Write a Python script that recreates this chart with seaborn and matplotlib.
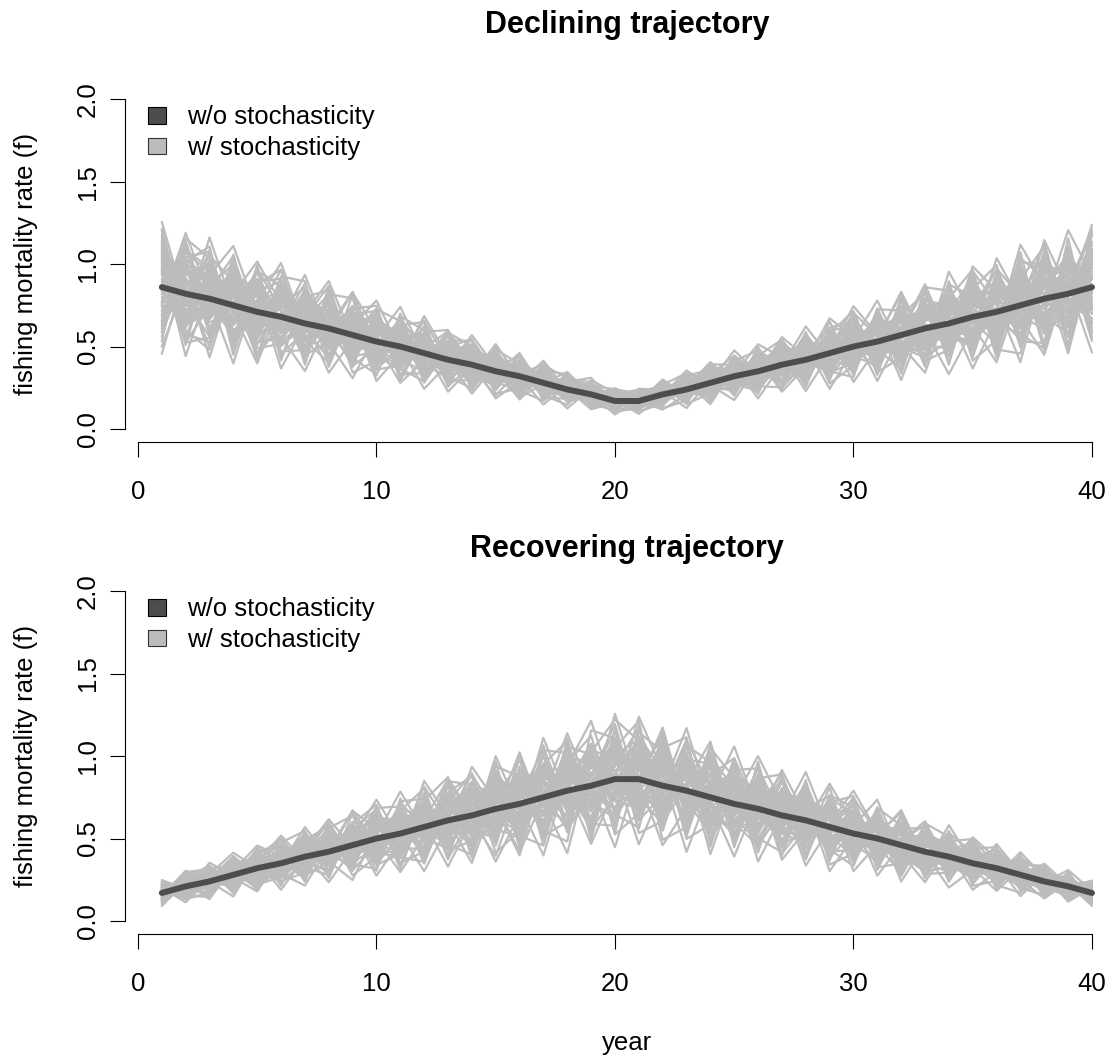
import matplotlib
matplotlib.use("Agg")
import matplotlib.pyplot as plt
from matplotlib.patches import Patch
import pandas as pd
import seaborn as sns

years = list(range(1, 41))

# deterministic fishing mortality rate (f) for the two scenarios
f_declining = [0.86, 0.82, 0.79, 0.75, 0.71, 0.68, 0.64, 0.61, 0.57, 0.53,
               0.50, 0.46, 0.42, 0.39, 0.35, 0.32, 0.28, 0.24, 0.21, 0.17,
               0.17, 0.21, 0.24, 0.28, 0.32, 0.35, 0.39, 0.42, 0.46, 0.50,
               0.53, 0.57, 0.61, 0.64, 0.68, 0.71, 0.75, 0.79, 0.82, 0.86]
f_recovering = [0.17, 0.21, 0.24, 0.28, 0.32, 0.35, 0.39, 0.42, 0.46, 0.50,
                0.53, 0.57, 0.61, 0.64, 0.68, 0.71, 0.75, 0.79, 0.82, 0.86,
                0.86, 0.82, 0.79, 0.75, 0.71, 0.68, 0.64, 0.61, 0.57, 0.53,
                0.50, 0.46, 0.42, 0.39, 0.35, 0.32, 0.28, 0.24, 0.21, 0.17]

# stochastic replicates: realised f as percent of the deterministic rate, by year
replicate_pct = [
    [112, 87, 95, 131, 78, 104, 66, 119, 92, 108, 125, 83, 97, 71, 114, 102, 88, 136, 93, 79, 106, 121, 85, 99, 117, 74, 110, 91, 128, 96, 82, 105, 139, 89, 76, 118, 101, 94, 123, 86],
    [74, 121, 103, 89, 115, 93, 138, 81, 107, 69, 98, 116, 84, 127, 91, 77, 112, 95, 108, 133, 87, 72, 119, 104, 90, 126, 83, 113, 68, 101, 122, 94, 79, 111, 135, 85, 97, 124, 78, 109],
    [98, 105, 63, 117, 92, 129, 84, 101, 146, 88, 76, 109, 122, 95, 58, 113, 99, 81, 124, 106, 71, 93, 137, 86, 103, 115, 64, 97, 110, 83, 119, 102, 89, 132, 96, 73, 114, 88, 105, 141],
    [131, 82, 118, 96, 108, 74, 99, 127, 85, 113, 102, 91, 137, 79, 104, 122, 67, 110, 93, 117, 128, 99, 81, 142, 76, 94, 121, 107, 87, 115, 72, 126, 98, 84, 109, 136, 91, 77, 118, 95],
    [86, 97, 129, 72, 103, 116, 91, 108, 77, 124, 89, 143, 96, 111, 83, 94, 127, 101, 68, 88, 114, 106, 97, 75, 120, 103, 139, 82, 95, 107, 91, 64, 118, 99, 87, 112, 125, 103, 70, 116],
    [104, 134, 85, 108, 61, 97, 115, 88, 123, 99, 117, 78, 106, 132, 97, 85, 103, 119, 89, 72, 101, 138, 93, 111, 84, 67, 105, 125, 98, 136, 87, 109, 96, 121, 80, 94, 107, 133, 92, 78],
    [69, 111, 99, 123, 97, 86, 128, 95, 102, 133, 81, 104, 90, 118, 109, 137, 92, 76, 115, 98, 84, 118, 107, 127, 94, 111, 88, 79, 121, 90, 105, 143, 83, 102, 117, 98, 72, 110, 129, 101],
    [118, 91, 137, 84, 122, 105, 73, 113, 96, 87, 109, 126, 62, 99, 121, 90, 115, 106, 131, 94, 77, 103, 89, 118, 139, 97, 116, 92, 103, 74, 127, 98, 113, 88, 96, 124, 105, 86, 99, 132],
    [93, 76, 112, 101, 134, 89, 106, 142, 81, 117, 95, 101, 119, 87, 74, 108, 126, 94, 103, 115, 92, 81, 128, 65, 108, 123, 94, 137, 86, 112, 99, 82, 124, 106, 129, 71, 119, 97, 87, 107],
    [127, 103, 79, 94, 117, 132, 96, 70, 114, 104, 83, 97, 111, 124, 103, 59, 98, 121, 84, 109, 136, 95, 112, 91, 99, 84, 119, 102, 115, 93, 133, 87, 71, 118, 101, 92, 138, 116, 95, 82],
    [81, 118, 106, 140, 86, 99, 119, 104, 67, 93, 129, 110, 85, 103, 134, 97, 81, 113, 100, 126, 89, 107, 74, 133, 113, 92, 101, 84, 131, 122, 78, 116, 104, 93, 75, 127, 88, 102, 120, 96],
    [109, 64, 94, 111, 126, 78, 101, 123, 99, 138, 74, 116, 98, 82, 117, 104, 140, 87, 96, 79, 122, 98, 115, 102, 82, 130, 96, 109, 77, 104, 94, 121, 135, 79, 110, 99, 117, 83, 106, 124],
    [97, 125, 116, 80, 99, 142, 87, 96, 111, 82, 105, 92, 127, 107, 88, 123, 95, 132, 72, 104, 96, 124, 86, 109, 127, 101, 73, 118, 93, 86, 112, 100, 91, 127, 104, 82, 96, 128, 112, 69],
    [135, 95, 71, 102, 113, 91, 109, 80, 127, 98, 116, 85, 102, 139, 96, 79, 112, 101, 118, 91, 108, 84, 133, 97, 71, 115, 107, 91, 124, 99, 69, 108, 117, 96, 141, 106, 81, 97, 88, 114],
    [58, 107, 122, 95, 82, 110, 134, 101, 93, 121, 98, 133, 79, 91, 112, 100, 86, 124, 106, 139, 78, 112, 99, 82, 117, 94, 131, 103, 85, 119, 101, 93, 74, 113, 89, 120, 102, 143, 76, 99],
    [114, 88, 101, 127, 106, 67, 92, 117, 104, 79, 123, 95, 108, 117, 85, 129, 104, 70, 94, 111, 99, 129, 80, 114, 92, 108, 87, 126, 109, 73, 124, 113, 98, 84, 121, 93, 110, 75, 131, 90],
    [90, 139, 88, 114, 73, 103, 116, 93, 131, 106, 88, 120, 94, 77, 128, 110, 93, 116, 84, 99, 121, 73, 104, 126, 89, 136, 99, 114, 96, 127, 90, 81, 130, 104, 94, 112, 84, 122, 101, 127],
    [122, 100, 82, 92, 128, 96, 79, 106, 88, 127, 111, 69, 103, 125, 100, 91, 136, 83, 110, 87, 102, 117, 92, 71, 104, 119, 112, 81, 101, 141, 106, 97, 111, 89, 78, 131, 99, 108, 93, 84],
    [77, 114, 126, 107, 95, 121, 103, 134, 76, 112, 93, 107, 141, 96, 82, 117, 78, 105, 127, 113, 86, 94, 139, 108, 96, 78, 124, 93, 117, 88, 97, 128, 85, 120, 107, 89, 126, 94, 115, 102],
    [141, 83, 97, 75, 110, 85, 124, 99, 115, 91, 134, 102, 87, 110, 121, 94, 107, 92, 99, 74, 130, 111, 96, 119, 85, 103, 92, 132, 78, 109, 117, 73, 101, 95, 133, 98, 115, 87, 105, 137],
    [101, 123, 110, 133, 89, 113, 70, 87, 105, 118, 80, 97, 115, 86, 106, 128, 113, 98, 81, 120, 107, 88, 123, 94, 128, 110, 82, 105, 99, 121, 84, 110, 124, 76, 99, 116, 93, 131, 84, 111],
    [84, 98, 133, 119, 103, 80, 112, 121, 97, 86, 107, 124, 96, 120, 79, 101, 89, 127, 115, 96, 82, 126, 101, 87, 113, 96, 135, 97, 89, 103, 128, 90, 107, 115, 86, 103, 134, 79, 121, 93],
    [116, 79, 91, 88, 137, 106, 98, 82, 120, 109, 126, 88, 72, 104, 131, 86, 120, 110, 93, 129, 99, 104, 77, 130, 102, 121, 89, 111, 133, 80, 113, 102, 93, 137, 118, 84, 99, 112, 97, 78],
    [95, 130, 121, 109, 84, 127, 94, 111, 86, 101, 113, 79, 123, 98, 93, 112, 71, 103, 122, 85, 115, 97, 118, 89, 74, 107, 116, 99, 83, 125, 95, 119, 81, 99, 113, 91, 76, 120, 104, 125],
    [106, 92, 84, 125, 118, 93, 131, 90, 109, 132, 96, 112, 100, 85, 115, 95, 110, 88, 107, 124, 93, 133, 85, 113, 97, 82, 108, 122, 94, 116, 107, 84, 115, 92, 101, 137, 107, 89, 128, 91],
    [128, 109, 107, 97, 79, 117, 84, 128, 98, 94, 119, 91, 109, 128, 101, 82, 97, 119, 88, 103, 125, 91, 110, 98, 122, 115, 97, 86, 119, 91, 101, 124, 87, 110, 125, 81, 121, 98, 86, 118],
    [88, 117, 119, 86, 107, 99, 105, 92, 118, 81, 102, 118, 88, 95, 124, 107, 85, 96, 114, 91, 112, 86, 102, 120, 108, 90, 113, 98, 107, 84, 121, 96, 119, 83, 96, 110, 92, 115, 110, 97],
    [120, 86, 89, 116, 96, 108, 121, 97, 91, 115, 87, 105, 120, 113, 90, 104, 118, 108, 97, 116, 83, 122, 94, 106, 90, 112, 103, 118, 88, 113, 96, 115, 94, 106, 119, 95, 113, 81, 99, 121],
    [102, 96, 114, 101, 119, 88, 100, 115, 101, 109, 121, 93, 104, 89, 118, 96, 104, 91, 122, 100, 116, 95, 112, 84, 118, 99, 122, 89, 113, 97, 109, 88, 111, 120, 88, 104, 97, 109, 117, 88],
    [110, 101, 92, 112, 87, 120, 96, 103, 112, 90, 96, 114, 91, 106, 99, 119, 92, 114, 104, 87, 103, 110, 90, 117, 99, 119, 91, 108, 102, 111, 93, 107, 99, 89, 114, 100, 119, 104, 93, 106],
    [146, 92, 108, 85, 117, 54, 99, 123, 88, 104, 148, 96, 81, 113, 102, 56, 119, 90, 107, 84, 144, 111, 94, 78, 120, 53, 101, 115, 87, 109, 147, 83, 97, 121, 92, 57, 114, 99, 82, 106],
    [89, 145, 101, 116, 94, 82, 55, 108, 122, 93, 79, 149, 104, 91, 118, 99, 53, 112, 86, 120, 97, 143, 83, 110, 95, 121, 58, 90, 118, 80, 103, 146, 88, 96, 117, 108, 54, 121, 101, 84],
    [111, 83, 147, 98, 80, 119, 104, 56, 95, 121, 106, 87, 142, 100, 84, 113, 96, 52, 119, 103, 88, 98, 148, 92, 112, 86, 117, 55, 99, 123, 84, 105, 144, 83, 108, 124, 90, 57, 113, 97],
    [80, 106, 118, 148, 99, 93, 117, 86, 54, 110, 97, 122, 89, 146, 107, 86, 111, 102, 57, 93, 116, 82, 106, 145, 83, 104, 92, 120, 53, 96, 112, 94, 79, 149, 101, 89, 107, 116, 56, 119],
    [104, 95, 86, 109, 143, 112, 88, 101, 119, 55, 91, 108, 115, 84, 147, 94, 121, 87, 99, 52, 107, 125, 91, 101, 149, 97, 84, 110, 122, 57, 93, 116, 103, 87, 145, 118, 96, 81, 108, 54],
    [53, 117, 96, 88, 110, 148, 93, 115, 81, 99, 56, 90, 103, 121, 95, 144, 85, 108, 113, 106, 54, 97, 116, 88, 104, 147, 111, 93, 80, 115, 55, 101, 120, 94, 82, 146, 103, 92, 121, 98],
    [119, 54, 109, 103, 86, 97, 146, 92, 108, 117, 100, 53, 94, 109, 120, 87, 148, 95, 84, 111, 99, 56, 87, 118, 106, 92, 143, 104, 111, 88, 120, 52, 111, 105, 96, 85, 149, 110, 93, 113],
    [95, 112, 55, 120, 105, 89, 110, 147, 97, 86, 114, 105, 54, 96, 89, 118, 100, 144, 95, 117, 85, 109, 53, 107, 91, 113, 98, 148, 95, 104, 97, 89, 56, 116, 111, 99, 84, 145, 102, 90],
    [113, 88, 100, 53, 122, 106, 84, 97, 145, 112, 88, 117, 99, 55, 111, 103, 92, 119, 148, 89, 110, 93, 119, 54, 116, 87, 106, 97, 146, 111, 90, 107, 98, 52, 89, 111, 118, 96, 147, 108],
    [98, 101, 121, 94, 56, 115, 102, 89, 110, 147, 95, 84, 110, 103, 53, 91, 113, 99, 89, 146, 92, 114, 102, 95, 55, 110, 95, 85, 104, 149, 108, 97, 86, 108, 54, 94, 87, 112, 97, 144],
    [62, 138, 75, 127, 58, 131, 84, 66, 143, 72, 129, 61, 118, 140, 69, 126, 77, 135, 60, 122, 141, 67, 129, 73, 136, 64, 124, 79, 142, 70, 133, 59, 127, 74, 139, 65, 121, 140, 68, 130],
    [137, 66, 129, 71, 140, 63, 125, 138, 70, 132, 59, 123, 76, 63, 134, 68, 142, 72, 128, 61, 76, 137, 65, 127, 71, 139, 62, 131, 67, 125, 74, 140, 63, 133, 69, 128, 76, 62, 135, 71],
    [71, 127, 136, 64, 124, 142, 68, 131, 60, 78, 137, 130, 65, 126, 74, 140, 61, 121, 137, 75, 66, 128, 141, 62, 124, 79, 133, 63, 126, 143, 67, 129, 72, 138, 61, 76, 135, 126, 62, 123],
    [129, 73, 61, 138, 69, 76, 133, 62, 128, 141, 66, 74, 139, 129, 61, 77, 134, 68, 125, 142, 127, 60, 72, 136, 65, 131, 74, 140, 60, 77, 128, 68, 137, 63, 125, 140, 71, 66, 141, 64],
    [65, 132, 124, 67, 135, 127, 62, 139, 75, 63, 126, 141, 70, 76, 138, 123, 66, 140, 72, 67, 133, 125, 63, 78, 139, 69, 126, 61, 134, 130, 71, 137, 64, 124, 142, 68, 61, 132, 75, 139],
    [140, 64, 70, 132, 77, 136, 140, 71, 122, 135, 73, 63, 128, 137, 67, 132, 73, 61, 141, 129, 62, 74, 135, 128, 67, 142, 70, 125, 76, 63, 138, 74, 123, 69, 133, 61, 129, 73, 127, 67],
    [76, 141, 131, 60, 128, 69, 75, 126, 66, 137, 131, 69, 135, 60, 124, 65, 138, 129, 64, 136, 73, 130, 68, 140, 122, 61, 137, 72, 129, 66, 125, 62, 141, 131, 74, 134, 66, 138, 60, 126],
    [133, 70, 67, 141, 63, 124, 67, 134, 139, 68, 77, 136, 61, 131, 71, 143, 69, 76, 131, 62, 138, 67, 126, 66, 133, 74, 65, 137, 64, 139, 62, 131, 68, 75, 128, 72, 143, 64, 131, 74],
    [68, 124, 140, 74, 137, 61, 129, 73, 127, 61, 140, 66, 124, 71, 142, 62, 127, 138, 70, 125, 65, 141, 77, 131, 63, 127, 139, 66, 122, 72, 137, 126, 62, 140, 64, 123, 75, 128, 68, 137],
    [125, 62, 128, 68, 126, 134, 61, 142, 71, 125, 64, 128, 143, 66, 129, 73, 61, 134, 123, 68, 130, 72, 139, 60, 129, 136, 72, 128, 70, 135, 65, 76, 138, 61, 136, 69, 132, 60, 124, 62],
    [83, 119, 76, 107, 125, 88, 113, 79, 98, 121, 86, 115, 74, 103, 127, 82, 118, 93, 77, 112, 124, 80, 105, 118, 87, 72, 113, 126, 81, 99, 117, 78, 108, 125, 84, 115, 72, 104, 119, 85],
    [117, 78, 124, 93, 72, 114, 82, 119, 104, 75, 121, 88, 116, 80, 96, 123, 74, 112, 126, 85, 79, 116, 90, 74, 121, 107, 83, 77, 124, 88, 73, 119, 96, 80, 115, 126, 84, 118, 77, 123],
    [76, 108, 97, 126, 115, 79, 127, 96, 73, 117, 105, 78, 125, 113, 81, 73, 122, 84, 107, 128, 95, 75, 121, 110, 78, 124, 102, 86, 116, 126, 79, 107, 121, 87, 74, 111, 125, 94, 108, 76],
    [124, 86, 113, 78, 90, 121, 74, 105, 126, 84, 72, 119, 93, 125, 76, 115, 107, 79, 122, 91, 117, 125, 82, 99, 126, 86, 120, 109, 74, 81, 126, 88, 75, 113, 122, 78, 97, 125, 89, 116],
    [79, 123, 84, 115, 120, 75, 98, 125, 83, 110, 124, 95, 77, 119, 112, 87, 126, 72, 98, 118, 74, 103, 127, 79, 111, 96, 75, 123, 85, 117, 108, 125, 78, 95, 124, 89, 116, 74, 127, 81],
    [112, 75, 119, 102, 77, 126, 89, 74, 116, 127, 79, 106, 120, 73, 88, 126, 80, 117, 75, 105, 128, 87, 113, 123, 73, 118, 89, 80, 126, 77, 122, 83, 114, 127, 79, 98, 123, 86, 71, 120],
    [87, 126, 72, 122, 83, 109, 123, 117, 77, 89, 118, 73, 109, 127, 116, 78, 95, 124, 82, 127, 84, 119, 74, 108, 124, 81, 125, 71, 112, 123, 86, 116, 72, 83, 120, 107, 76, 124, 113, 74],
    [121, 82, 106, 74, 118, 86, 116, 81, 126, 72, 113, 124, 84, 97, 73, 121, 114, 75, 128, 76, 122, 77, 118, 87, 80, 126, 76, 114, 91, 74, 125, 77, 127, 118, 72, 124, 82, 108, 126, 87],
    [73, 115, 127, 84, 110, 122, 76, 127, 88, 119, 76, 127, 81, 116, 123, 75, 120, 101, 73, 114, 78, 126, 97, 77, 116, 74, 109, 127, 78, 122, 81, 124, 84, 76, 127, 73, 119, 77, 84, 126],
    [126, 77, 89, 118, 74, 81, 127, 73, 111, 124, 83, 77, 127, 86, 74, 118, 79, 127, 116, 79, 119, 72, 124, 127, 86, 113, 72, 90, 127, 82, 114, 72, 119, 123, 78, 126, 74, 117, 78, 123],
]

DARK = "#4D4D4D"
LIGHT = "#BCBCBC"
FONT = 18.5

sns.set_style("ticks")
plt.rcParams["font.family"] = ["Liberation Sans", "DejaVu Sans"]
plt.rcParams["axes.linewidth"] = 0.8
plt.rcParams["text.color"] = "black"
plt.rcParams["axes.labelcolor"] = "black"

fig = plt.figure(figsize=(11.12, 10.59), dpi=100)
ax_top = fig.add_axes([0.11205, 0.5824, 0.9034, 0.3365])
ax_bot = fig.add_axes([0.11205, 0.11785, 0.9034, 0.3365])


def replicates_frame(f_det):
    rows = []
    for rep, pct in enumerate(replicate_pct):
        for j, yr in enumerate(years):
            rows.append((rep, yr, f_det[j] * pct[j] / 100.0))
    return pd.DataFrame(rows, columns=["rep", "year", "f"])


def draw_panel(ax, f_det, title, title_pad):
    sns.lineplot(data=replicates_frame(f_det), x="year", y="f", units="rep",
                 estimator=None, color=LIGHT, lw=1.6, ax=ax, legend=False)
    sns.lineplot(x=years, y=f_det, color=DARK, lw=4.3, ax=ax)

    ax.set_xlim(-0.56, 41.56)
    ax.set_ylim(-0.08, 2.08)
    ax.set_xticks([0, 10, 20, 30, 40])
    ax.set_yticks([0.0, 0.5, 1.0, 1.5, 2.0])
    ax.set_yticklabels(["0.0", "0.5", "1.0", "1.5", "2.0"])
    for side in ("top", "right"):
        ax.spines[side].set_visible(False)
    ax.spines["left"].set_bounds(0, 2)
    ax.spines["bottom"].set_bounds(0, 40)
    for side in ("left", "bottom"):
        ax.spines[side].set_color("black")
    ax.tick_params(axis="both", direction="out", length=10.8, width=0.8,
                   color="black", labelsize=FONT, labelcolor="black")
    ax.tick_params(axis="x", pad=16.5)
    ax.tick_params(axis="y", pad=7, labelrotation=90)
    for lab in ax.get_yticklabels():
        lab.set_va("center")

    ax.set_xlabel("")
    ax.set_ylabel("fishing mortality rate (f)", fontsize=FONT, color="black")
    ax.yaxis.set_label_coords(-0.086, 0.5)
    ax.set_title(title, fontsize=22, fontweight="bold", pad=title_pad,
                 color="black")

    handles = [Patch(facecolor=DARK, edgecolor="black", lw=0.8),
               Patch(facecolor=LIGHT, edgecolor="#333333", lw=0.8)]
    ax.legend(handles, ["w/o stochasticity", "w/ stochasticity"],
              loc="upper left", bbox_to_anchor=(0.0233, 0.945), frameon=False,
              fontsize=FONT, handlelength=0.7, handleheight=0.6,
              handletextpad=0.8, labelspacing=0.26, borderpad=0,
              borderaxespad=0)


draw_panel(ax_top, f_declining, "Declining trajectory", 38)
draw_panel(ax_bot, f_recovering, "Recovering trajectory", 15)
ax_bot.set_xlabel("year", fontsize=FONT, color="black")
ax_bot.xaxis.set_label_coords(0.5, -0.272)

fig.savefig("out.png", dpi=100, facecolor="white")
